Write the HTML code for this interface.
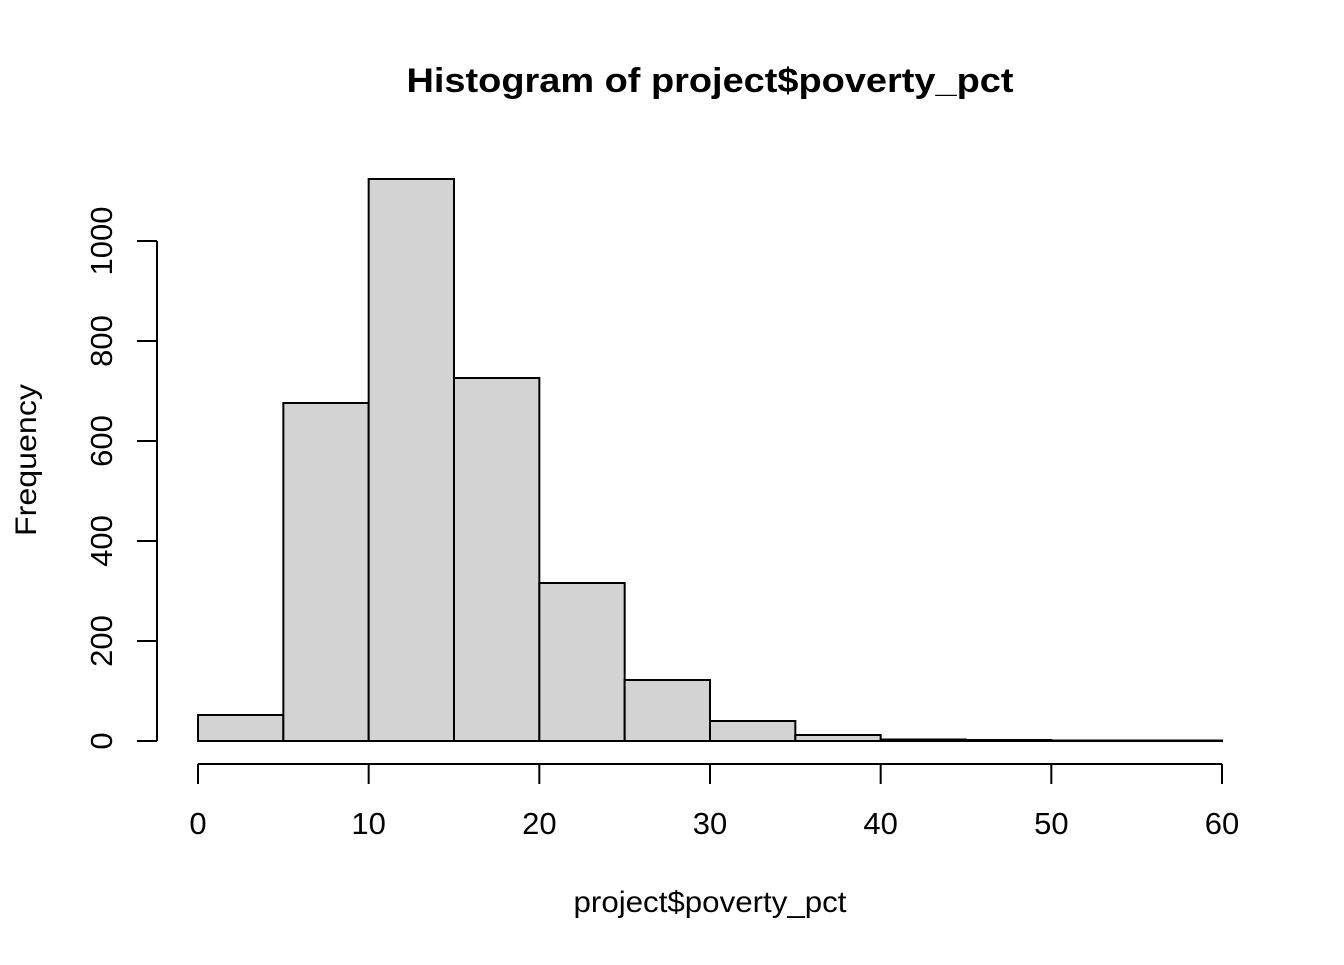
<!DOCTYPE html>
<html><head><meta charset="utf-8"><style>
body{margin:0;background:#fff}
svg text{font-family:"Liberation Sans",Arial,sans-serif;fill:#000}
</style></head><body>
<svg width="1344" height="960" xmlns="http://www.w3.org/2000/svg">
<text x="710" y="92" font-size="34" font-weight="bold" text-anchor="middle" textLength="607" lengthAdjust="spacingAndGlyphs">Histogram of project$poverty_pct</text>
<text x="710" y="912" font-size="30" text-anchor="middle" textLength="273" lengthAdjust="spacingAndGlyphs">project$poverty_pct</text>
<text transform="translate(36,460) rotate(-90)" font-size="30" text-anchor="middle" textLength="152" lengthAdjust="spacingAndGlyphs">Frequency</text>
<g id="bars"></g>
<g id="xaxis"></g>
<g id="yaxis"></g>
</svg>
<script>
const binStarts=[0,5,10,15,20,25,30,35,40,45,50,55];
const binWidth=5;
const counts=[52,676,1124,726,316,122,40,12,3,2,1,1];
const xTicks=[0,10,20,30,40,50,60];
const yTicks=[0,200,400,600,800,1000];
const NS="http://www.w3.org/2000/svg";
const xs=v=>198+v*(1024/60);
const ys=v=>741-v*0.5;
function mk(tag,attrs,parent){const e=document.createElementNS(NS,tag);for(const k in attrs)e.setAttribute(k,attrs[k]);parent.appendChild(e);return e;}
const bars=document.getElementById('bars');
binStarts.forEach((b,i)=>{
  const r=mk('rect',{x:xs(b),y:ys(counts[i]),width:xs(b+binWidth)-xs(b),height:ys(0)-ys(counts[i]),fill:'#d3d3d3',stroke:'#000','stroke-width':2},bars);
  
  
});
const xa=document.getElementById('xaxis');
mk('line',{x1:xs(xTicks[0]),x2:xs(xTicks[xTicks.length-1]),y1:764,y2:764,stroke:'#000','stroke-width':2},xa);
xTicks.forEach(t=>{
  mk('line',{x1:xs(t),x2:xs(t),y1:764,y2:784,stroke:'#000','stroke-width':2},xa);
  const tx=mk('text',{x:xs(t),y:834,'font-size':31,'text-anchor':'middle'},xa);tx.textContent=t;
  
  
});
const ya=document.getElementById('yaxis');
mk('line',{x1:157,x2:157,y1:ys(yTicks[0]),y2:ys(yTicks[yTicks.length-1]),stroke:'#000','stroke-width':2},ya);
yTicks.forEach(t=>{
  mk('line',{x1:137,x2:157,y1:ys(t),y2:ys(t),stroke:'#000','stroke-width':2},ya);
  const tx=mk('text',{transform:`translate(112,${ys(t)}) rotate(-90)`,'font-size':31,'text-anchor':'middle'},ya);tx.textContent=t;
  
  
});
</script>
</body></html>
